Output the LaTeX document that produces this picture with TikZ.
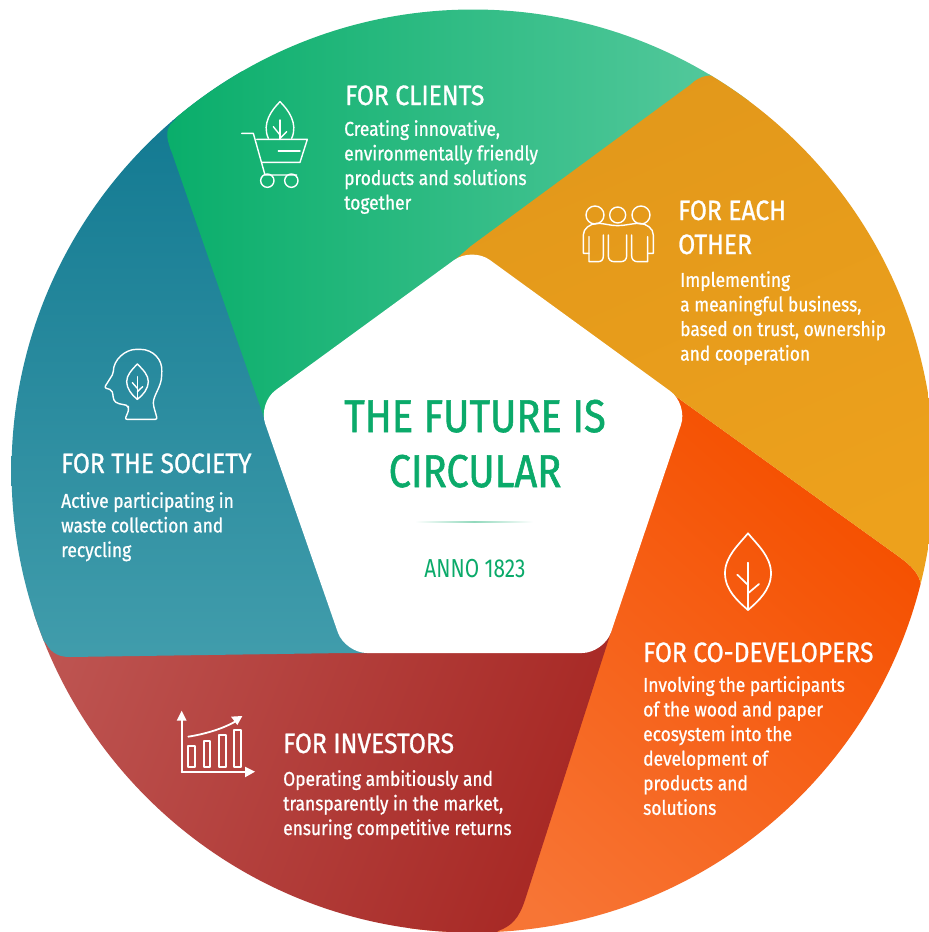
\documentclass[tikz,border=0pt]{standalone}
\usepackage{fontspec}
\setmainfont[FakeStretch=0.8]{Fira Sans}
\newfontfamily\headfont[FakeStretch=0.88,FakeBold=0.9]{Fira Sans}
\newfontfamily\bodyfont[FakeStretch=0.87,FakeBold=0.8]{Fira Sans}
\newfontfamily\titlefont[FakeStretch=0.865,FakeBold=1.2]{Fira Sans}
\definecolor{brandgreen}{HTML}{0BAA6A}
\definecolor{greenA}{HTML}{0AAE6B}\definecolor{greenB}{HTML}{52C89B}
\definecolor{yellowA}{HTML}{E2981B}\definecolor{yellowB}{HTML}{EDA11C}
\definecolor{orangeA}{HTML}{F55000}\definecolor{orangeB}{HTML}{F77535}
\definecolor{redA}{HTML}{BE5552}\definecolor{redB}{HTML}{A52420}
\definecolor{blueA}{HTML}{137A92}\definecolor{blueB}{HTML}{409CAB}
\newcommand{\segfill}[7]{%
  \begin{scope}
    \clip (473,471) circle (461.5);
    \clip #1;
    \pgfmathsetmacro{\segang}{atan2(-(#5-#3),#4-#2)}
    \pgfmathsetmacro{\seglen}{veclen(#4-#2,#5-#3)}
    \begin{scope}[transform canvas={shift={(#2,#3)},rotate=\segang}]
      \fill[#6] (-1500,-1500) rectangle (1,1500);
      \fill[#7] (\seglen-1,-1500) rectangle (1500,1500);
      \shade[left color=#6,right color=#7] (0,-1500) rectangle (\seglen,1500);
    \end{scope}
  \end{scope}}
\tikzset{
  head/.style={anchor=base west,inner sep=0,text=white,font=\headfont\fontsize{28}{34}\selectfont},
  body/.style={anchor=north west,inner sep=0,text=white,align=left,font=\bodyfont\fontsize{20}{24.6}\selectfont},
  bigtitle/.style={anchor=base,inner sep=0,text=brandgreen,font=\titlefont\fontsize{46}{55}\selectfont},
  icon/.style={draw=white,line width=1.4pt,line join=round,line cap=round},
  iconfill/.style={fill=white,draw=none}
}
\begin{document}
\begin{tikzpicture}[x=1pt,y=-1pt]
\useasboundingbox (0,0) rectangle (929,932);
\fill[white] (0,0) rectangle (929,932);
% orange
\segfill{(474,470) -- (670,392) -- (685,403) -- (898,556) .. controls (915,568) and (922,578) .. (921,590) -- (1000,700) -- (1000,1000) -- (400,1000) -- cycle}{900}{540}{560}{930}{orangeA}{orangeB}
% red
\segfill{(474,470) -- (611,632) -- (525,900) .. controls (519,918) and (512,926) .. (498,931) -- (450,1000) -- (-50,1000) -- (-50,640) -- cycle}{50}{640}{610}{860}{redA}{redB}
% blue
\segfill{(474,470) -- (367,653) -- (345,653) -- (70,657) .. controls (55,657) and (50,650) .. (45,642) -- (-50,600) -- (-50,50) -- (230,50) -- cycle}{300}{120}{300}{650}{blueA}{blueB}
% green
\segfill{(474,470) -- (266,424) -- (259,403) -- (172,153) .. controls (165,135) and (165,128) .. (176,119) -- (100,-20) -- (700,-20) -- (780,60) -- cycle}{170}{300}{710}{300}{greenA}{greenB}
% yellow
\segfill{(474,470) -- (456,259) -- (471,246) -- (690,85) .. controls (700,75) and (714,71) .. (727,83) -- (800,40) -- (1000,200) -- (1000,620) -- (950,612) -- (921,590) .. controls (922,578) and (915,568) .. (898,556) -- (685,403) -- (670,392) -- cycle}{600}{100}{800}{560}{yellowA}{yellowB}
% centre pentagon
\fill[white,rounded corners=22pt] (472,247) -- (688,404) -- (604,653) -- (345,653) -- (258,403) -- cycle;
\node[bigtitle] (title1) at (475,432) {THE FUTURE IS};
\node[bigtitle] (title2) at (475,487) {CIRCULAR};
\shade[left color=white,right color=white,middle color=brandgreen!45] (415,521.3) rectangle (533,522.8);
\node[anchor=base,inner sep=0,text=brandgreen,font=\fontsize{26}{30}\selectfont] (anno) at (475,577) {ANNO 1823};
% texts
\node[head] (tclients) at (345,105) {FOR CLIENTS};
\node[body] (bclients) at (344,120) {Creating innovative,\\environmentally friendly\\products and solutions\\together};
\node[head] (teach1) at (678,220) {FOR EACH};
\node[head] (teach2) at (678,254) {OTHER};
\node[body] (beach) at (680,271) {Implementing\\a meaningful business,\\based on trust, ownership\\and cooperation};
\node[head] (tsoc) at (61,473) {FOR THE SOCIETY};
\node[body] (bsoc) at (61,492) {Active participating in\\waste collection and\\recycling};
\node[head] (tinv) at (283,753) {FOR INVESTORS};
\node[body] (binv) at (283,770) {Operating ambitiously and\\transparently in the market,\\ensuring competitive returns};
\node[head] (tco) at (643,662) {FOR CO-DEVELOPERS};
\node[body] (bco) at (643,676) {Involving the participants\\of the wood and paper\\ecosystem into the\\development of\\products and\\solutions};
% cart icon
\begin{scope}[shift={(150,60)},scale=1/3]
  \draw[icon] (275,220) -- (310,220) -- (345,345) -- (440,345);
  \draw[icon] (320,238) -- (472,238) -- (450,307) -- (335,307);
  \draw[icon] (385,273) -- (450,273);
  \draw[icon] (352,362) circle (20);
  \draw[icon] (424,362) circle (20);
  \draw[icon] (355,235) .. controls (335,190) and (365,150) .. (390,125) .. controls (415,150) and (445,190) .. (425,235);
  \draw[icon] (390,180) -- (390,238);
  \draw[icon] (370,200) -- (390,225);
  \draw[icon] (410,215) -- (390,235);
\end{scope}
% people icon
\begin{scope}[shift={(440,60)},scale=1/3]
  \draw[icon] (465,465) circle (27);
  \draw[icon] (533,465) circle (24);
  \draw[icon] (603,465) circle (27);
  \draw[icon] (447,580) -- (430,580) -- (430,525) .. controls (430,505) and (450,492) .. (470,490) .. controls (495,490) and (510,497) .. (533,497) .. controls (556,497) and (575,490) .. (600,490) .. controls (620,492) and (640,505) .. (640,525) -- (640,580) -- (623,580);
  \draw[icon] (447,530) -- (447,605) -- (475,605) .. controls (485,605) and (490,598) .. (490,588) -- (490,525);
  \draw[icon] (505,525) -- (505,588) .. controls (505,598) and (512,605) .. (522,605) -- (543,605) .. controls (553,605) and (560,598) .. (560,588) -- (560,525);
  \draw[icon] (575,525) -- (575,588) .. controls (575,598) and (582,605) .. (592,605) -- (623,605) -- (623,530);
\end{scope}
% head icon
\begin{scope}[shift={(60,340)},scale=1/3]
  \draw[icon,rounded corners=2pt] (195,238) .. controls (200,225) and (205,215) .. (205,205) -- (205,197) -- (172,190) .. controls (158,180) and (160,165) .. (155,150) -- (133,143) -- (160,100) .. controls (160,60) and (195,28) .. (235,28) .. controls (280,28) and (308,60) .. (305,100) .. controls (305,140) and (280,165) .. (280,195) -- (292,238) -- cycle;
  \draw[icon] (232,72) .. controls (215,90) and (200,105) .. (200,125) .. controls (200,145) and (215,165) .. (232,178) .. controls (250,165) and (265,145) .. (265,125) .. controls (265,105) and (250,90) .. (232,72) -- cycle;
  \draw[icon] (232,110) -- (232,178);
  \draw[icon] (217,128) -- (232,145);
  \draw[icon] (248,140) -- (232,155);
\end{scope}
% chart icon
\begin{scope}[shift={(160,690)},scale=1/3]
  \draw[icon,line width=1.8pt] (65,245) -- (65,85);
  \fill[iconfill] (50,92) -- (80,92) -- (65,62) -- cycle;
  \draw[icon,line width=1.8pt] (65,245) -- (260,245);
  \fill[iconfill] (255,230) -- (285,245) -- (255,262) -- cycle;
  \draw[icon,line width=1.8pt,line cap=butt] (84,167) rectangle (105,230);
  \draw[icon,line width=1.8pt,line cap=butt] (131,153) rectangle (151,230);
  \draw[icon,line width=1.8pt,line cap=butt] (177,135) rectangle (197,230);
  \draw[icon,line width=1.8pt,line cap=butt] (222,119) rectangle (243,230);
  \draw[icon,line width=1.8pt] (85,140) .. controls (130,133) and (185,118) .. (225,95);
  \fill[iconfill] (213,80) -- (247,78) -- (232,105) -- cycle;
\end{scope}
% leaf icon
\begin{scope}[shift={(680,500)},scale=1/3]
  \draw[icon,line width=1.7pt] (204,100) .. controls (175,135) and (135,170) .. (135,220) .. controls (135,270) and (175,305) .. (204,330) .. controls (233,305) and (273,270) .. (273,220) .. controls (273,170) and (233,135) .. (204,100) -- cycle;
  \draw[icon,line width=1.7pt] (204,188) -- (204,330);
  \draw[icon,line width=1.7pt] (172,224) -- (204,255);
  \draw[icon,line width=1.7pt] (237,252) -- (204,280);
\end{scope}
\end{tikzpicture}
\end{document}
